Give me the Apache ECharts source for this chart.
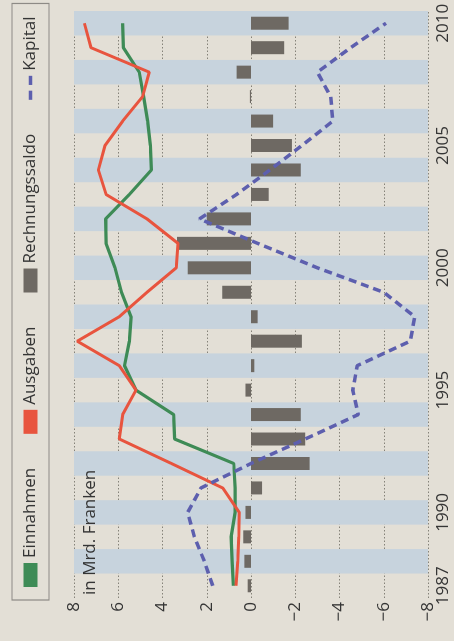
<!DOCTYPE html>
<html>
<head>
<meta charset="utf-8">
<script src="https://cdn.jsdelivr.net/npm/echarts@6/dist/echarts.min.js"></script>
<style>
  html, body { margin: 0; padding: 0; width: 454px; height: 641px; overflow: hidden; background: #e3dfd6; }
  /* the chart is laid out landscape and turned a quarter turn counter-clockwise */
  #chart {
    position: absolute; left: 0; top: 0;
    width: 641px; height: 454px;
    transform-origin: 0 0;
    transform: translate(0, 641px) rotate(-90deg);
  }
</style>
</head>
<body>
<div id="chart"></div>
<script>
// Jahre
const years = ['1987','1988','1989','1990','1991','1992','1993','1994','1995','1996','1997','1998',
               '1999','2000','2001','2002','2003','2004','2005','2006','2007','2008','2009','2010'];
// beschriftete Jahre auf der Zeitachse
const yearTicks = ['1987','1990','1995','2000','2005','2010'];

// in Mrd. Franken
const einnahmen = [0.8, 0.85, 0.9, 0.72, 0.72, 0.78, 3.45, 3.5, 5.2, 5.72, 5.5, 5.42,
                   5.85, 6.15, 6.55, 6.57, 5.5, 4.5, 4.55, 4.67, 4.85, 5.05, 5.77, 5.8];
const ausgaben  = [0.68, 0.6, 0.55, 0.53, 1.28, 3.6, 5.95, 5.8, 5.2, 5.95, 7.85, 5.95,
                   4.7, 3.38, 3.3, 4.7, 6.55, 6.9, 6.6, 5.8, 4.9, 4.6, 7.23, 7.53];
const saldo     = [0.15, 0.3, 0.35, 0.25, -0.5, -2.65, -2.45, -2.25, 0.25, -0.15, -2.3, -0.3,
                   1.3, 2.86, 3.35, 2.0, -0.8, -2.25, -1.85, -1.0, 0.05, 0.65, -1.5, -1.7];
const kapital   = [1.73, 2.11, 2.56, 2.86, 2.26, 0.0, -2.45, -4.85, -4.6, -4.8, -7.2, -7.4,
                   -6.0, -3.0, -0.3, 2.33, 0.65, -0.85, -2.3, -3.7, -3.6, -3.0, -4.5, -6.1];

const FONT = '"Open Sans", "Noto Sans", sans-serif';
const TEXT = '#353535';
const C_EIN = '#3e8b56';
const C_AUS = '#e8543e';
const C_SAL = '#6e6963';
const C_KAP = '#5d5fae';

const chart = echarts.init(document.getElementById('chart'), null, { renderer: 'canvas' });

chart.setOption({
  backgroundColor: '#e3dfd6',
  animation: false,
  textStyle: { fontFamily: FONT, color: TEXT },
  grid: { left: 43, right: 11, top: 74, bottom: 26, containLabel: false, outerBoundsMode: 'none' },
  legend: {
    left: 41, top: 12,
    padding: [10, 13, 10, 13],
    itemGap: 34,
    itemWidth: 24, itemHeight: 14,
    borderColor: '#8d8a85', borderWidth: 1.2,
    textStyle: { fontFamily: FONT, fontSize: 17, color: TEXT },
    data: [
      { name: 'Einnahmen', icon: 'rect' },
      { name: 'Ausgaben', icon: 'rect' },
      { name: 'Rechnungssaldo', icon: 'rect' },
      // two short dashes for the dashed series
      { name: 'Kapital', icon: 'path://M0,0H8V3H0Z M13,0H21V3H13Z' }
    ]
  },
  graphic: [{
    type: 'text', left: 46, top: 82, silent: true, z: 100,
    style: { text: 'in Mrd. Franken', fontFamily: FONT, fontSize: 17, fill: TEXT }
  }],
  xAxis: {
    type: 'category',
    data: years,
    boundaryGap: true,
    axisLine: { show: false },
    axisTick: { show: false, interval: 0 },
    axisLabel: {
      interval: (i, v) => yearTicks.indexOf(v) >= 0,
      fontFamily: FONT, fontSize: 17, color: TEXT, margin: 7
    },
    splitLine: { show: false },
    splitArea: { show: true, interval: 0, areaStyle: { color: ['rgba(0,0,0,0)', '#c7d3dd'] } }
  },
  yAxis: {
    type: 'value',
    min: -8, max: 8, interval: 2,
    axisLine: { show: false },
    axisTick: { show: false },
    axisLabel: {
      fontFamily: FONT, fontSize: 17, color: TEXT, margin: 4,
      formatter: v => String(v).replace('-', '\u2212')
    },
    splitLine: { show: true, lineStyle: { color: '#858279', width: 1, type: [1.5, 2] } }
  },
  series: [
    {
      name: 'Rechnungssaldo', type: 'bar', data: saldo,
      barWidth: 13, itemStyle: { color: C_SAL }
    },
    {
      name: 'Einnahmen', type: 'line', data: einnahmen,
      symbol: 'none', color: C_EIN,
      lineStyle: { color: C_EIN, width: 3.2 }
    },
    {
      name: 'Ausgaben', type: 'line', data: ausgaben,
      symbol: 'none', color: C_AUS,
      lineStyle: { color: C_AUS, width: 3 }
    },
    {
      name: 'Kapital', type: 'line', data: kapital,
      symbol: 'none', color: C_KAP,
      lineStyle: { color: C_KAP, width: 3.5, type: [8, 5] }
    }
  ]
});
</script>
</body>
</html>
